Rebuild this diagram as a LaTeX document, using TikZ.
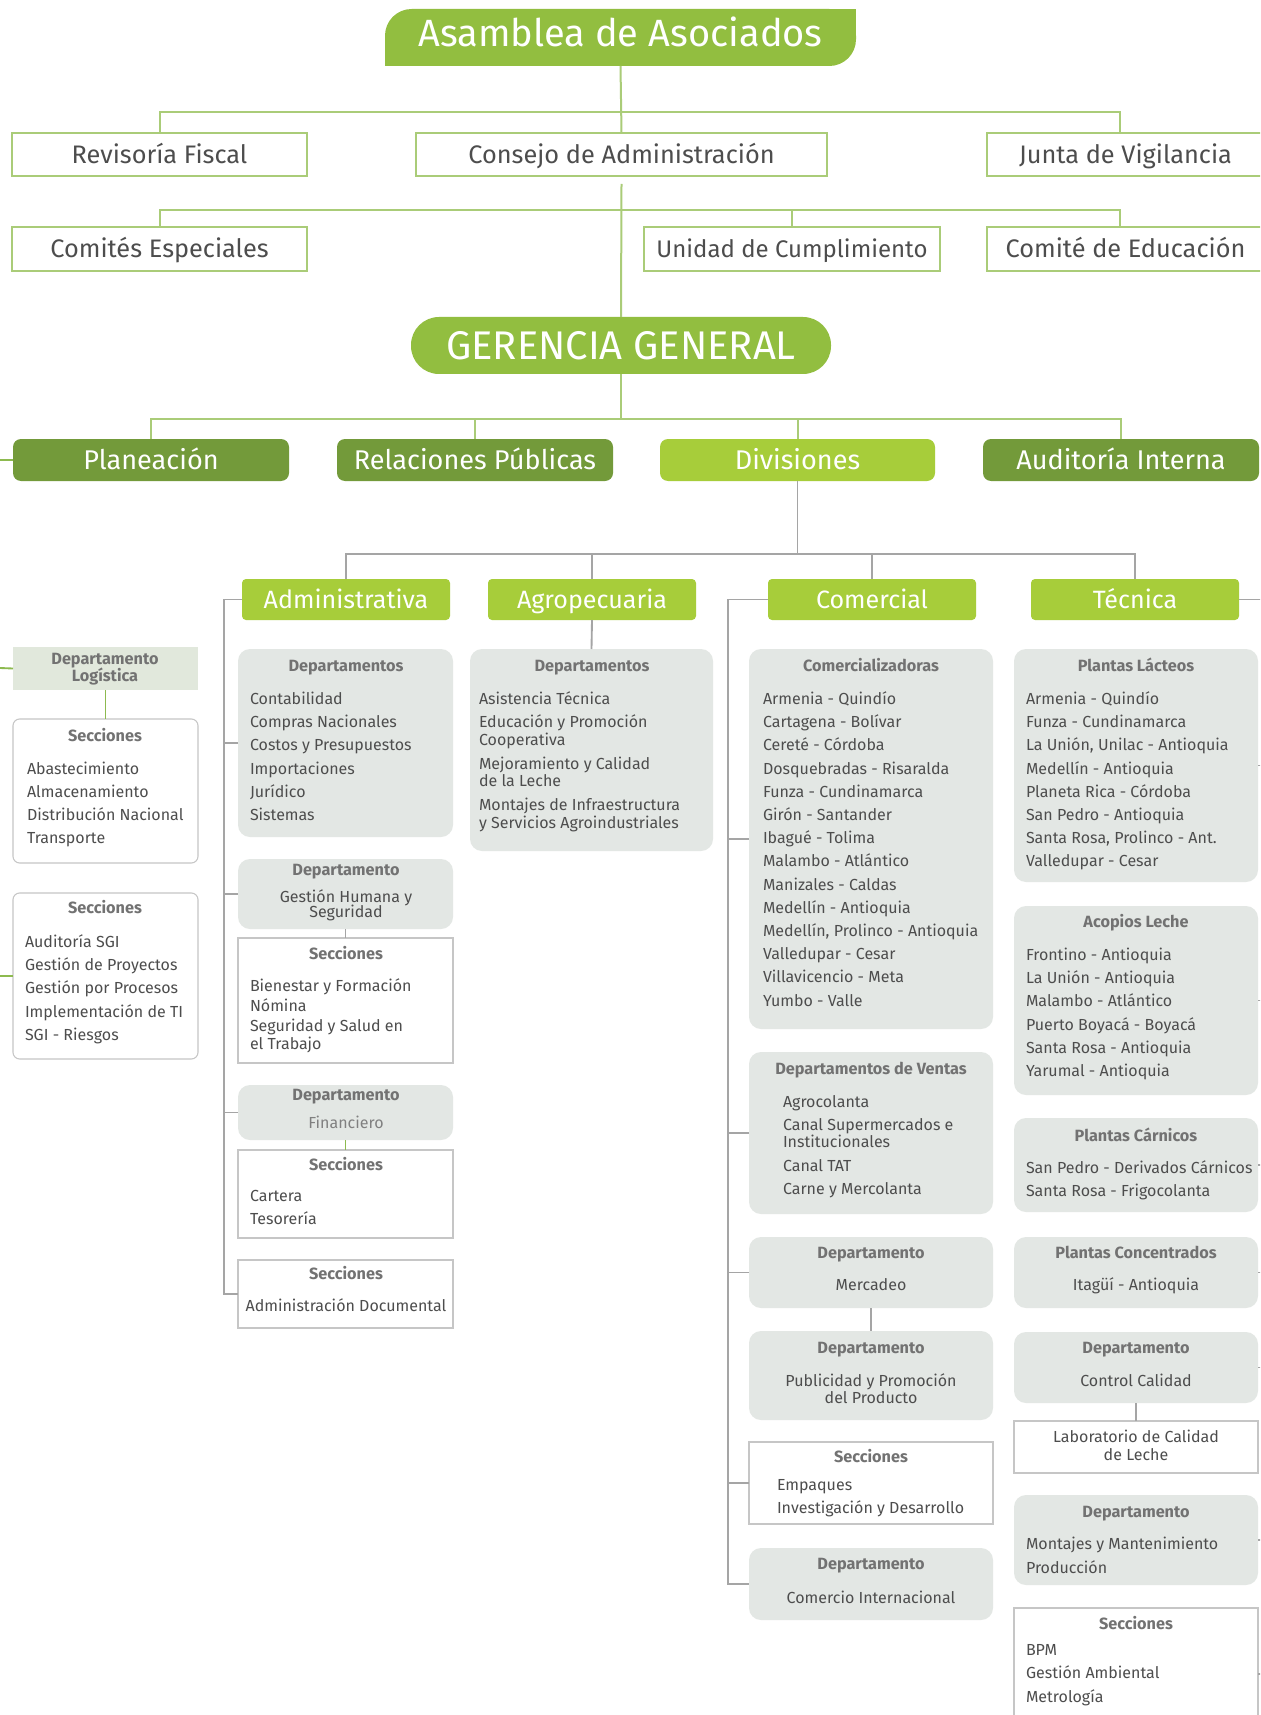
\documentclass[tikz,border=0pt]{standalone}
\usepackage{fontspec}
\setmainfont{Fira Sans}
\usetikzlibrary{calc}
\definecolor{mgreen}{HTML}{92BE40}
\definecolor{dgreen}{HTML}{739A3A}
\definecolor{lime}{HTML}{A7CD3A}
\definecolor{lgreen}{HTML}{AACC78}
\definecolor{lnk}{HTML}{8DBA4F}
\definecolor{gln}{HTML}{A5A5A5}
\definecolor{gfill}{HTML}{E3E7E4}
\definecolor{lfill}{HTML}{E1E8DC}
\definecolor{txt}{HTML}{4D4D4D}
\definecolor{ttlc}{HTML}{727272}
\definecolor{bord}{HTML}{C6C6C6}
\newcommand\mkbox[7]{\node[#1, minimum width={(#4-#2)*0.75pt}, minimum height={(#5-#3)*0.75pt}] (#6) at ({(#2+#4)/2},{(#3+#5)/2}) {#7};}
\begin{document}
\begin{tikzpicture}[x=0.75pt,y=-0.75pt,
 every node/.style={inner sep=0pt, outer sep=0pt},
 tline/.style={draw=lgreen, line width=1.5pt},
 gline/.style={draw=gln, line width=1.4pt},
 kline/.style={draw=lnk, line width=1.4pt},
 fixh/.style 2 args={text height=#1, text depth=#2},
 topbox/.style={fixh={15.2pt}{1.9pt}, draw=lgreen, line width=1.3pt, fill=white, text=txt, font=\fontsize{19}{21}\selectfont},
 darkbox/.style={fixh={16.2pt}{2pt}, fill=dgreen, rounded corners=6pt, text=white, font=\fontsize{20.3}{22}\selectfont},
 limebox/.style={fixh={15pt}{1.9pt}, fill=lime, rounded corners=3pt, text=white, font=\fontsize{18.8}{20}\selectfont},
 gbox/.style={fill=gfill, rounded corners=9pt},
 wbox/.style={draw=bord, line width=0.8pt, fill=white},
 wrbox/.style={draw=bord, line width=0.8pt, fill=white, rounded corners=5pt},
 lbox/.style={fill=lfill},
 item/.style={font=\fontsize{12}{13}\selectfont, text=txt, anchor=mid west},
 itemc/.style={item, anchor=mid},
 ttl/.style={font=\fontsize{12.2}{13}\selectfont\bfseries, text=ttlc, anchor=mid}]
\useasboundingbox (0,0) rectangle (1260,1715);
\fill[white] (0,0) rectangle (1260,1715);
\clip (0,0) rectangle (1260,1715);

% ---------- top levels ----------
\mkbox{fill=mgreen, rounded corners=20pt}{385}{9}{856}{66}{asam}{}
\fill[mgreen] (826,9) rectangle (856,40);
\fill[mgreen] (385,36) rectangle (415,66);
\node[fixh={22.8pt}{2.85pt}, text=white, font=\fontsize{28.5}{30}\selectfont] (asamt) at ([yshift=3pt]asam.center) {Asamblea de Asociados};

\mkbox{topbox}{12}{133}{307}{176}{revisoria}{Revisoría Fiscal}
\mkbox{topbox}{416}{133}{827}{176}{consejo}{Consejo de Administración}
\mkbox{topbox}{987}{133}{1264}{176}{junta}{Junta de Vigilancia}

\mkbox{topbox}{12}{227}{307}{271}{comites}{Comités Especiales}
\mkbox{topbox, font=\fontsize{18}{20}\selectfont}{644}{227}{940}{271}{unidad}{Unidad de Cumplimiento}
\mkbox{topbox}{987}{227}{1264}{271}{comedu}{Comité de Educación}

\mkbox{fixh={24pt}{3pt}, fill=mgreen, rounded corners=21pt, text=white, font=\fontsize{30}{32}\selectfont}{411}{317}{831}{374}{ger}{GERENCIA GENERAL}

\mkbox{darkbox}{13}{439}{289}{481}{plan}{Planeación}
\mkbox{darkbox}{337}{439}{613}{481}{rel}{Relaciones Públicas}
\mkbox{limebox, fixh={16.2pt}{2pt}, rounded corners=6pt, font=\fontsize{20.3}{22}\selectfont}{660}{439}{935}{481}{div}{Divisiones}
\mkbox{darkbox}{983}{439}{1259}{481}{aud}{Auditoría Interna}

\draw[tline] (asam.south) -- (consejo.north);
\draw[tline] (revisoria.north) -- ++(0,-21) -| ([xshift=99.75pt]junta.north west);
\draw[tline] ([yshift=-6pt]consejo.south) -- (ger.north);
\draw[tline] (comites.north) -- ++(0,-17) -| ([xshift=99.75pt]comedu.north west);
\draw[tline] (unidad.north) -- ++(0,-17);
\draw[tline] (ger.south) -- ++(0,45);
\draw[tline] (plan.north) -- ++(0,-20) -| (aud.north);
\draw[tline] (rel.north) -- ++(0,-20);
\draw[tline] (div.north) -- ++(0,-20);

% ---------- divisions ----------
\mkbox{limebox}{242}{579}{450}{620}{admv}{Administrativa}
\mkbox{limebox}{488}{579}{696}{620}{agrov}{Agropecuaria}
\mkbox{limebox}{768}{579}{976}{620}{comv}{Comercial}
\mkbox{limebox}{1031}{579}{1239}{620}{tecv}{Técnica}

\draw[gline] (div.south) -- ++(0,73);
\draw[gline] (admv.north) -- ++(0,-25) -| (tecv.north);
\draw[gline] (agrov.north) -- ++(0,-25);
\draw[gline] (comv.north) -- ++(0,-25);

% ---------- Planeación (left, partly cut) ----------
\coordinate (pl0) at (0,460);
\coordinate (pl1) at (0,668);
\coordinate (pl2) at (0,976);
\draw[kline] (pl0) -- (plan.west);
\mkbox{lbox}{13}{647}{198}{690}{logis}{}
\node[ttl] (logis1) at (105,661) {Departamento};
\node[ttl] (logis2) at (105,678) {Logística};
\draw[kline] (pl1) -- (logis.west);
\mkbox{wrbox}{13}{719}{198}{863}{pls1}{}
\draw[kline] (logis.south) -- (pls1.north);
\node[ttl] (pls1t) at (105,738) {Secciones};
\foreach \t [count=\i from 0] in {Abastecimiento, Almacenamiento, Distribución Nacional, Transporte}
  \node[item] (pls1-\i) at (27,{771+23.1*\i}) {\t};
\mkbox{wrbox}{13}{893}{198}{1059}{pls2}{}
\draw[kline] (pl2) -- (pls2.west);
\node[ttl] (pls2t) at (105,910) {Secciones};
\foreach \t [count=\i from 0] in {Auditoría SGI, Gestión de Proyectos, Gestión por Procesos, Implementación de TI, SGI - Riesgos}
  \node[item] (pls2-\i) at (25,{944+23.2*\i}) {\t};

% ---------- Administrativa ----------
\mkbox{gbox}{238}{649}{453}{837}{admdep}{}
\node[ttl] (admdept) at (346,668) {Departamentos};
\foreach \t [count=\i from 0] in {Contabilidad, Compras Nacionales, Costos y Presupuestos, Importaciones, Jurídico, Sistemas}
  \node[item] (admdep-\i) at (250,{701+23.2*\i}) {\t};

\mkbox{gbox}{238}{859}{453}{929}{gh}{}
\node[ttl] (ght) at (346,872) {Departamento};
\node[itemc] (gh1) at (346,899) {Gestión Humana y};
\node[itemc] (gh2) at (346,914) {Seguridad};
\mkbox{wbox}{238}{938}{453}{1063}{ghs}{}
\draw[gline] (gh.south) -- (ghs.north);
\node[ttl] (ghst) at (346,956) {Secciones};
\node[item] (ghs1) at (250,988) {Bienestar y Formación};
\node[item] (ghs2) at (250,1008) {Nómina};
\node[item] (ghs3) at (250,1028) {Seguridad y Salud en};
\node[item] (ghs4) at (250,1046) {el Trabajo};

\mkbox{gbox}{238}{1085}{453}{1140}{fin}{}
\node[ttl] (fint) at (346,1097) {Departamento};
\node[itemc, text=gray] (fin1) at (346,1125) {Financiero};
\mkbox{wbox}{238}{1150}{453}{1238}{fins}{}
\draw[kline] (fin.south) -- (fins.north);
\node[ttl] (finst) at (346,1167) {Secciones};
\node[item] (fins1) at (250,1198) {Cartera};
\node[item] (fins2) at (250,1221) {Tesorería};

\mkbox{wbox}{238}{1260}{453}{1328}{admdoc}{}
\node[ttl] (admdoct) at (346,1276) {Secciones};
\node[itemc] (admdoc1) at (346,1308) {Administración Documental};

\draw[gline] (admv.west) -- ++(-18,0) |- (admdoc.west);
\draw[gline] (admdep.west) -- ++(-14,0);
\draw[gline] (gh.west) -- ++(-14,0);
\draw[gline] (fin.west) -- ++(-14,0);

% ---------- Agropecuaria ----------
\mkbox{gbox}{470}{649}{713}{851}{agrodep}{}
\draw[gline] (agrov.south) -- (agrodep.north);
\node[ttl] (agrot) at (592,668) {Departamentos};
\node[item] (agro1) at (479,701) {Asistencia Técnica};
\node[item] (agro2) at (479,724) {Educación y Promoción};
\node[item] (agro3) at (479,742) {Cooperativa};
\node[item] (agro4) at (479,766) {Mejoramiento y Calidad};
\node[item] (agro5) at (479,783) {de la Leche};
\node[item] (agro6) at (479,807) {Montajes de Infraestructura};
\node[item] (agro7) at (479,825) {y Servicios Agroindustriales};

% ---------- Comercial ----------
\mkbox{gbox}{749}{649}{993}{1029}{comz}{}
\node[ttl] (comzt) at (871,668) {Comercializadoras};
\foreach \t [count=\i from 0] in {Armenia - Quindío, Cartagena - Bolívar, Cereté - Córdoba, Dosquebradas - Risaralda, Funza - Cundinamarca, Girón - Santander, Ibagué - Tolima, Malambo - Atlántico, Manizales - Caldas, Medellín - Antioquia, {Medellín, Prolinco - Antioquia}, Valledupar - Cesar, Villavicencio - Meta, Yumbo - Valle}
  \node[item] (comz-\i) at (763,{701+23.2*\i}) {\t};

\mkbox{gbox}{749}{1052}{993}{1214}{vent}{}
\node[ttl] (ventt) at (871,1071) {Departamentos de Ventas};
\node[item] (vent1) at (783,1104) {Agrocolanta};
\node[item] (vent2) at (783,1127) {Canal Supermercados e};
\node[item] (vent3) at (783,1144) {Institucionales};
\node[item] (vent4) at (783,1168) {Canal TAT};
\node[item] (vent5) at (783,1191) {Carne y Mercolanta};

\mkbox{gbox}{749}{1237}{993}{1308}{merc}{}
\node[ttl] (merct) at (871,1255) {Departamento};
\node[itemc] (merc1) at (871,1287) {Mercadeo};

\mkbox{gbox}{749}{1331}{993}{1420}{pub}{}
\draw[gline] (merc.south) -- (pub.north);
\node[ttl] (pubt) at (871,1350) {Departamento};
\node[itemc] (pub1) at (871,1383) {Publicidad y Promoción};
\node[itemc] (pub2) at (871,1400) {del Producto};

\mkbox{wbox}{749}{1442}{993}{1524}{csec}{}
\node[ttl] (csect) at (871,1459) {Secciones};
\node[item] (csec1) at (777,1487) {Empaques};
\node[item] (csec2) at (777,1510) {Investigación y Desarrollo};

\mkbox{gbox}{749}{1548}{993}{1620}{cint}{}
\node[ttl] (cintt) at (871,1566) {Departamento};
\node[itemc] (cint1) at (871,1600) {Comercio Internacional};

\draw[gline] (comv.west) -- ++(-40,0) |- (cint.west);
\draw[gline] (comz.west) -- ++(-21,0);
\draw[gline] (vent.west) -- ++(-21,0);
\draw[gline] (merc.west) -- ++(-21,0);
\draw[gline] (csec.west) -- ++(-21,0);

% ---------- Técnica ----------
\mkbox{gbox}{1014}{649}{1258}{882}{lac}{}
\node[ttl] (lact) at (1136,668) {Plantas Lácteos};
\foreach \t [count=\i from 0] in {Armenia - Quindío, Funza - Cundinamarca, {La Unión, Unilac - Antioquia}, Medellín - Antioquia, Planeta Rica - Córdoba, San Pedro - Antioquia, {Santa Rosa, Prolinco - Ant.}, Valledupar - Cesar}
  \node[item] (lac-\i) at (1026,{701+23.2*\i}) {\t};

\mkbox{gbox}{1014}{906}{1258}{1095}{aco}{}
\node[ttl] (acot) at (1136,924) {Acopios Leche};
\foreach \t [count=\i from 0] in {Frontino - Antioquia, La Unión - Antioquia, Malambo - Atlántico, Puerto Boyacá - Boyacá, Santa Rosa - Antioquia, Yarumal - Antioquia}
  \node[item] (aco-\i) at (1026,{957+23.2*\i}) {\t};

\mkbox{gbox}{1014}{1118}{1258}{1212}{car}{}
\node[ttl] (cart) at (1136,1138) {Plantas Cárnicos};
\node[item] (car1) at (1026,1170) {San Pedro - Derivados Cárnicos};
\node[item] (car2) at (1026,1193) {Santa Rosa - Frigocolanta};

\mkbox{gbox}{1014}{1237}{1258}{1308}{conc}{}
\node[ttl] (conct) at (1136,1255) {Plantas Concentrados};
\node[itemc] (conc1) at (1136,1287) {Itagüí - Antioquia};

\mkbox{gbox}{1014}{1332}{1258}{1403}{ctrl}{}
\node[ttl] (ctrlt) at (1136,1350) {Departamento};
\node[itemc] (ctrl1) at (1136,1383) {Control Calidad};

\mkbox{wbox}{1014}{1421}{1258}{1473}{lab}{}
\draw[gline] (ctrl.south) -- (lab.north);
\node[itemc] (lab1) at (1136,1439) {Laboratorio de Calidad};
\node[itemc] (lab2) at (1136,1457) {de Leche};

\mkbox{gbox}{1014}{1495}{1258}{1585}{mont}{}
\node[ttl] (montt) at (1136,1514) {Departamento};
\node[item] (mont1) at (1026,1546) {Montajes y Mantenimiento};
\node[item] (mont2) at (1026,1570) {Producción};

\mkbox{wbox}{1014}{1608}{1258}{1740}{tsec}{}
\node[ttl] (tsect) at (1136,1626) {Secciones};
\node[item] (tsec1) at (1026,1652) {BPM};
\node[item] (tsec2) at (1026,1675) {Gestión Ambiental};
\node[item] (tsec3) at (1026,1699) {Metrología};

\draw[gline] (tecv.east) -- ++(30,0);
\foreach \b in {lac,aco,car,conc,ctrl,mont,tsec}
  \draw[gline] (\b.east) -- ++(8,0);
\end{tikzpicture}
\end{document}
